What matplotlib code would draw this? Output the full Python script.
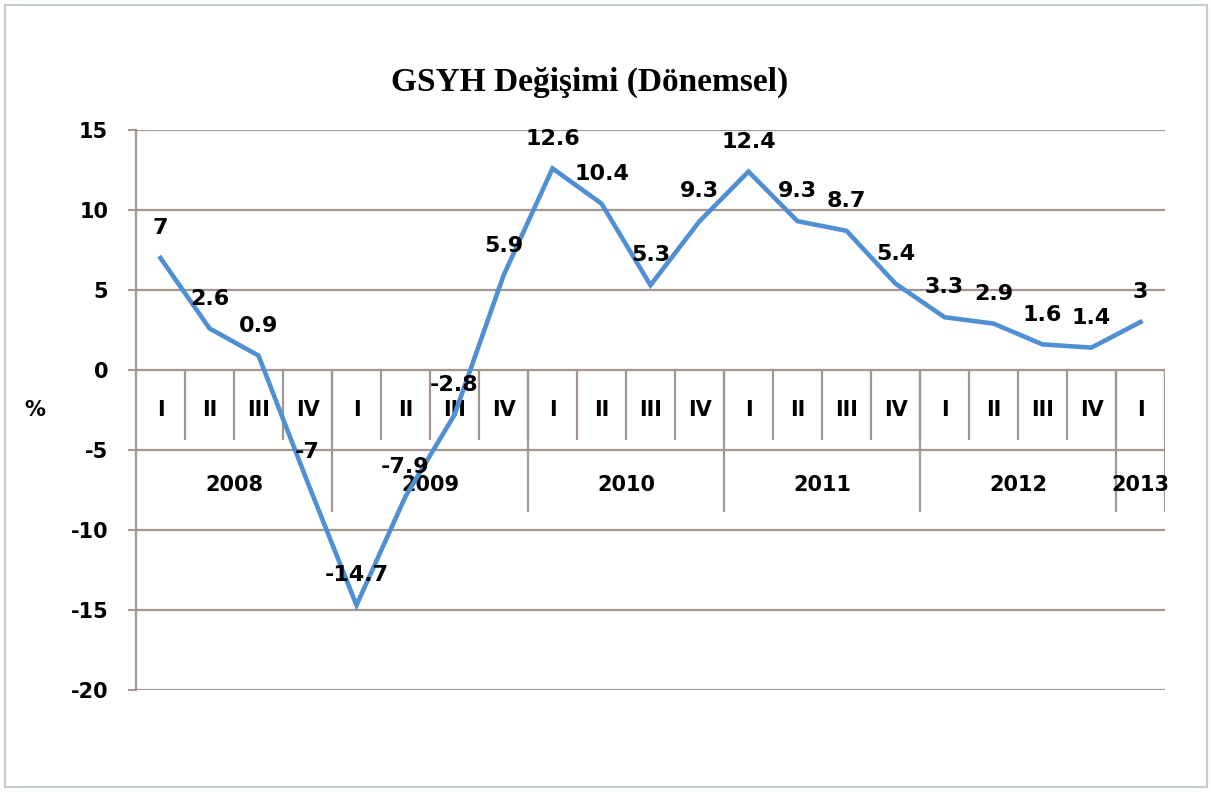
import matplotlib
matplotlib.use('Agg')
import matplotlib.pyplot as plt
from matplotlib.patches import Rectangle

plt.rcParams['axes.unicode_minus'] = False

# GSYH quarterly change, 2008 Q1 - 2013 Q1
quarters = ['I', 'II', 'III', 'IV'] * 5 + ['I']
years = ['2008', '2009', '2010', '2011', '2012', '2013']
year_len = [4, 4, 4, 4, 4, 1]
values = [7, 2.6, 0.9, -7, -14.7, -7.9, -2.8, 5.9, 12.6, 10.4, 5.3,
          9.3, 12.4, 9.3, 8.7, 5.4, 3.3, 2.9, 1.6, 1.4, 3]
labels = ['7', '2.6', '0.9', '-7', '-14.7', '-7.9', '-2.8', '5.9', '12.6', '10.4', '5.3',
          '9.3', '12.4', '9.3', '8.7', '5.4', '3.3', '2.9', '1.6', '1.4', '3']

W, H = 1211, 792
fig = plt.figure(figsize=(W / 100, H / 100), dpi=100)
fig.patch.set_facecolor('white')

# outer frame
fig.patches.append(Rectangle((5 / W, 5 / H), 1202 / W, 782 / H, transform=fig.transFigure,
                             fill=False, edgecolor='#c3cfc7', linewidth=1.6))

ax = fig.add_axes([136 / W, 1 - 690 / H, (1165 - 136) / W, (690 - 130) / H])
grid_c = '#a39691'
n = len(values)
xs = [i + 0.5 for i in range(n)]

ax.set_xlim(0, n)
ax.set_ylim(-20, 15)
ax.set_yticks(range(-20, 16, 5))
ax.set_xticks([])
ax.grid(axis='y', color=grid_c, linewidth=1.6, zorder=1)
ax.set_axisbelow(True)
for s in ['top', 'right', 'bottom']:
    ax.spines[s].set_visible(False)
ax.spines['left'].set_color(grid_c)
ax.spines['left'].set_linewidth(1.6)
ax.tick_params(axis='y', length=6, width=1.4, color=grid_c, pad=14, labelsize=15)
for t in ax.get_yticklabels():
    t.set_fontweight('bold')

# category axis drawn at zero: quarter cells and year cells
ax.vlines(range(1, n + 1), -4.4, 0, color=grid_c, linewidth=1.6, zorder=1)
bounds = [0]
for L in year_len:
    bounds.append(bounds[-1] + L)
ax.vlines(bounds[1:], -8.9, 0, color=grid_c, linewidth=1.6, zorder=1)
for x, q in zip(xs, quarters):
    ax.text(x, -2.5, q, ha='center', va='center', fontsize=15, fontweight='bold', zorder=2)
for i, y in enumerate(years):
    ax.text((bounds[i] + bounds[i + 1]) / 2, -7.2, y, ha='center', va='center',
            fontsize=15, fontweight='bold', zorder=2)

ax.plot(xs, values, color='#4f8fd3', linewidth=3.3, solid_joinstyle='miter', zorder=3)
for x, v, lab in zip(xs, values, labels):
    ax.annotate(lab, (x, v), xytext=(0, 21.5), textcoords='offset points',
                ha='center', va='center', fontsize=16, fontweight='bold', zorder=4)

fig.text(35 / W, 1 - 410 / H, '%', ha='center', va='center', fontsize=15, fontweight='bold')
fig.text(590 / W, 1 - 82 / H, 'GSYH Değişimi (Dönemsel)', ha='center', va='center',
         fontsize=24, fontweight='bold', family='Liberation Serif')

fig.savefig('out.png', dpi=100)
